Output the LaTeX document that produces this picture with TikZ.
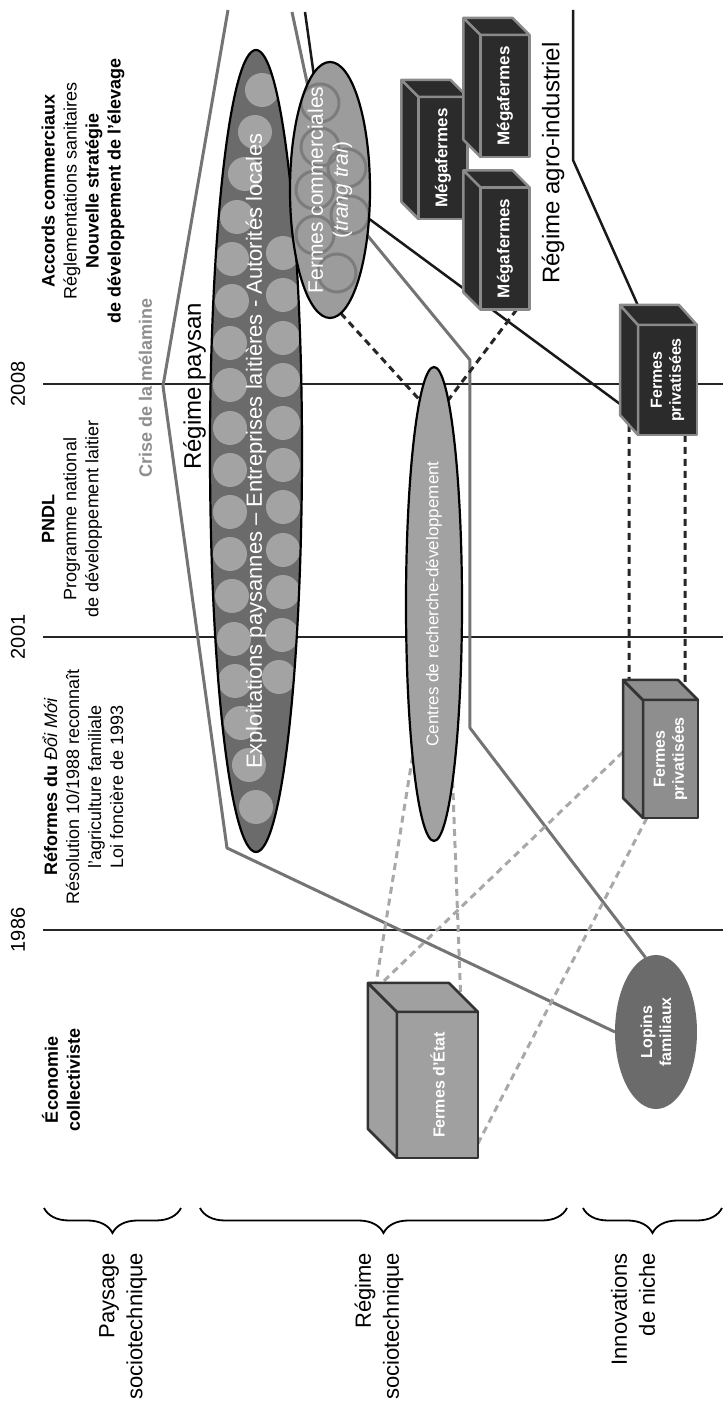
\documentclass[tikz,border=0pt]{standalone}
\usepackage{fontspec}
\setmainfont{Liberation Sans}
\usetikzlibrary{calc, shapes.geometric, decorations.pathreplacing, backgrounds}

\definecolor{paysanfill}{HTML}{6B6B6B}
\definecolor{dotfill}{HTML}{A3A3A3}
\definecolor{commfill}{HTML}{9C9C9C}
\definecolor{ringline}{HTML}{7C7C7C}
\definecolor{rdfill}{HTML}{A2A2A2}
\definecolor{megafill}{HTML}{2B2B2B}
\definecolor{megaedge}{HTML}{8A8A8A}
\definecolor{nichefill}{HTML}{8E8E8E}
\definecolor{etatfill}{HTML}{A0A0A0}
\definecolor{regcol}{HTML}{747474}
\definecolor{crisegray}{HTML}{8E8E8E}
\definecolor{linkgray}{HTML}{A8A8A8}

% top and right faces of a box drawn on a front node
\newcommand{\boxsides}[3]{%
  \filldraw[#2] (#1.north west) -- ++(#3) coordinate (#1-nwb)
    -- ($(#1.north east)+(#3)$) coordinate (#1-neb) -- (#1.north east) -- cycle;
  \filldraw[#2] (#1.north east) -- (#1-neb)
    -- ($(#1.south east)+(#3)$) coordinate (#1-seb) -- (#1.south east) -- cycle;
}

\begin{document}
\begin{tikzpicture}[x=1pt, y=1pt, rotate=90, transform shape,
    every node/.style={inner sep=0pt, outer sep=0pt},
    note/.style={font=\fontsize{18}{22}\selectfont, align=center},
    yearlbl/.style={font=\fontsize{20}{24}\selectfont},
    levellbl/.style={font=\fontsize{22}{28}\selectfont, align=right, anchor=east},
    regimelbl/.style={font=\fontsize{24}{28}\selectfont},
    crisetxt/.style={font=\bfseries\fontsize{18}{22}\selectfont, text=crisegray},
    whitelbl/.style={text=white, align=center},
    boxlbl/.style={text=white, align=center, font=\bfseries\fontsize{16}{19}\selectfont},
    megabox/.style={fill=megafill, draw=megaedge, line width=2.5, line join=round},
    grbox/.style={draw=black!80, line width=2.5, line join=round},
    timeline/.style={line width=1.6, black!85},
    regline/.style={line width=3, regcol, line join=round},
    agline/.style={line width=2.5, black!90, line join=round},
    blkdash/.style={line width=3, black!85, dash pattern=on 7 off 5},
    grydash/.style={line width=3, linkgray, dash pattern=on 7 off 5},
    brc/.style={decorate, decoration={brace, amplitude=25pt}, line width=1.8}]

\useasboundingbox (0,0) rectangle (1404,723);

% time axis
\foreach \yr/\xx in {1986/474, 2001/767, 2008/1020}{
  \node[yearlbl] (y\yr) at (\xx,705) {\yr};
  \coordinate (t\yr) at (\xx,680);
  \coordinate (e\yr) at (\xx,0);
}

% landscape events
\node[note] (ecocol) at (324,662) {\textbf{Économie}\\\textbf{collectiviste}};
\node[note] (doimoi) at (617,640) {\textbf{Réformes du} \textit{Đổi Mới}\\Résolution 10/1988 reconnaît\\l'agriculture familiale\\Loi foncière de 1993};
\node[note] (pndl) at (885,651) {\textbf{PNDL}\\Programme national\\de développement laitier};
\node[note] (accords) at (1213,640) {\textbf{Accords commerciaux}\\Réglementations sanitaires\\\textbf{Nouvelle stratégie}\\\textbf{de développement de l'élevage}};
\node[crisetxt, anchor=base east] (crise) at (1017.5,571) {Crise de la};
\node[crisetxt, anchor=base west] (melamine) at (1022.5,571) {mélamine};

% regime paysan
\node[regimelbl, anchor=base east] (regp1) at (1017,522) {Régime};
\node[regimelbl, anchor=base west] (regp2) at (1023.5,522) {paysan};
\node[ellipse, fill=paysanfill, minimum width=802, minimum height=92] (paysan) at (953,467) {};
\begin{scope}
  \clip (paysan.center) ellipse [x radius=401, y radius=46];
  \foreach \cx/\cy in {1314/461, 1272/468, 1230/478, 1187/486, 1145/491, 1103/491,
      1061/493, 1019/493, 976/493, 934/493, 892/493, 850/493, 808/491, 765/489,
      723/488, 681/482, 639/474, 597/467,
      1151/440, 1109/440, 1066/440, 1024/440, 981/440, 939/440, 897/440,
      854/440, 812/440, 769/441, 727/444}
    \fill[dotfill] (\cx,\cy) circle (17);
\end{scope}
\draw[line width=2.2] (paysan.center) ellipse [x radius=401, y radius=46];
\node[whitelbl, font=\fontsize{22}{26}\selectfont] (paysanlbl) at (paysan.center)
  {Exploitations paysannes – Entreprises laitières - Autorités locales};

% fermes commerciales
\node[ellipse, fill=commfill, minimum width=256, minimum height=80] (fc) at (1214,393) {};
\begin{scope}
  \clip (fc.center) ellipse [x radius=128, y radius=40];
  \foreach \cx/\cy in {1301/403, 1257/403, 1236/376, 1214/408, 1189/373, 1169/408, 1131/386}
    \draw[ringline, line width=3] (\cx,\cy) circle (19);
\end{scope}
\draw[line width=2.2] (fc.center) ellipse [x radius=128, y radius=40];
\node[whitelbl, font=\fontsize{21}{25}\selectfont] (fclbl) at (fc.center)
  {Fermes commerciales\\(\textit{trang trai})};

% centres, lopins
\node[ellipse, draw, line width=2.2, fill=rdfill, minimum width=474, minimum height=56,
  text=white, font=\fontsize{17}{20}\selectfont] (centres) at (800,289) {Centres de recherche-développement};
\node[ellipse, fill=paysanfill, minimum width=154, minimum height=82, boxlbl] (lopins) at (372,67) {Lopins\\familiaux};

% farms as boxes
\node[grbox, fill=etatfill, minimum width=146, minimum height=81, boxlbl] (etat) at (319,285.5) {Fermes d'État};
\boxsides{etat}{grbox, fill=etatfill}{29,29}
\node[grbox, fill=nichefill, minimum width=118, minimum height=55, boxlbl] (gpriv) at (645,52.5) {Fermes\\privatisées};
\boxsides{gpriv}{grbox, fill=nichefill}{20,20}
\node[megabox, minimum width=110, minimum height=59, boxlbl] (fpriv) at (1024,55.5) {Fermes\\privatisées};
\boxsides{fpriv}{megabox}{20,18}
\node[megabox, minimum width=122, minimum height=49, boxlbl, font=\bfseries\fontsize{17}{20}\selectfont] (megaA) at (1246,280) {Mégafermes};
\boxsides{megaA}{megabox}{17,17}
\node[megabox, minimum width=122, minimum height=49, boxlbl, font=\bfseries\fontsize{17}{20}\selectfont] (megaB) at (1308,218) {Mégafermes};
\boxsides{megaB}{megabox}{17,17}
\node[megabox, minimum width=122, minimum height=49, boxlbl, font=\bfseries\fontsize{17}{20}\selectfont] (megaC) at (1155.5,218) {Mégafermes};
\boxsides{megaC}{megabox}{17,17}

\node[regimelbl] (agro) at (1241,170) {Régime agro-industriel};

% levels
\node[levellbl] (paysage) at (151,600) {Paysage\\sociotechnique};
\node[levellbl] (regime) at (151,344) {Régime\\sociotechnique};
\node[levellbl] (niche) at (151,90) {Innovations\\de niche};
\draw[brc] (196,542) -- (196,679);
\draw[brc] (196,156) -- (196,523);
\draw[brc] (196,1) -- (196,140);

% regime boundaries
\coordinate (pa-top) at (1394,495);
\coordinate (pa-apex) at (1018,560);
\coordinate (pa-knee) at (556,496);
\coordinate (fc-top) at (1392,431);
\coordinate (fc-knee) at (1044,253);
\coordinate (fc-foot) at (676,253);
\coordinate (ag-top) at (1392,418);
\coordinate (ai-top) at (1394,150);
\coordinate (ai-knee) at (1244,150);

\begin{pgfonlayer}{background}
  \foreach \yr in {1986,2001,2008} \draw[timeline] (t\yr) -- (e\yr);
  \draw[regline] (pa-top) -- (pa-apex) -- (pa-knee) -- (lopins.north);
  \draw[regline] (fc-top) -- (fc.center) -- (fc-knee) -- (fc-foot) -- (lopins.8);
  \draw[agline] (ag-top) -- (fc.center) -- ($(fpriv-nwb)!0.1!(fpriv-neb)$);
  \draw[agline] (ai-top) -- (ai-knee) -- ($(fpriv-neb)!0.3!(fpriv-seb)$);
  % links
  \draw[blkdash] (fc.185) -- (centres.4);
  \draw[blkdash] ($(megaC.south west)!0.26!(megaC.north west)$) -- (centres.-4);
  \draw[blkdash] ($(fpriv.north west)!0.5!(fpriv-nwb)$) -- ($(gpriv-neb)!0.11!(gpriv-seb)$);
  \draw[blkdash] ($(fpriv.south west)!0.2!(fpriv.north west)$) -- ($(gpriv.south east)!0.65!(gpriv-seb)$);
  \draw[grydash] (centres.172) -- ($(etat-neb)!0.1!(etat-seb)$);
  \draw[grydash] (centres.186) -- ($(etat.south east)!0.6!(etat-seb)$);
  \draw[grydash] ($(gpriv-nwb)!0.39!(gpriv-neb)$) -- ($(etat-neb)!0.17!(etat-seb)$);
  \draw[grydash] ($(gpriv.south west)!0.93!(gpriv.north west)$) -- ($(etat.south west)!0.1!(etat.south east)$);
\end{pgfonlayer}
\end{tikzpicture}
\end{document}
